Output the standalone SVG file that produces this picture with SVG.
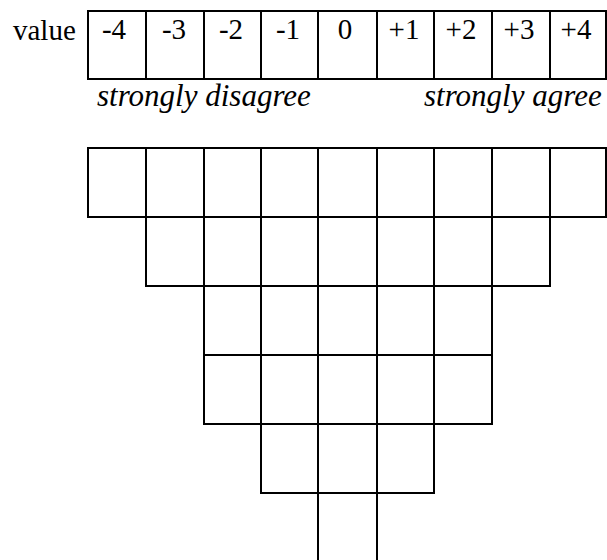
<svg xmlns="http://www.w3.org/2000/svg" width="607" height="560" viewBox="0 0 607 560">
<style>
.c{fill:none;stroke:#000;stroke-width:2}
text{font-family:Liberation Serif,Times New Roman,Times,serif;fill:#000;font-size:29px}
.v{text-anchor:middle}
.i{font-style:italic;font-size:31px}
</style>
<rect width="607" height="560" fill="#fff"/>
<text x="13" y="40">value</text>
<g id="scale">
<g id="v-4"><rect class="c" x="88" y="11" width="58" height="68"/><text class="v" x="114" y="39">-4</text></g>
<g id="v-3"><rect class="c" x="146" y="11" width="58" height="68"/><text class="v" x="174" y="39">-3</text></g>
<g id="v-2"><rect class="c" x="204" y="11" width="57" height="68"/><text class="v" x="231" y="39">-2</text></g>
<g id="v-1"><rect class="c" x="261" y="11" width="57" height="68"/><text class="v" x="288" y="39">-1</text></g>
<g id="v0"><rect class="c" x="318" y="11" width="59" height="68"/><text class="v" x="345" y="39">0</text></g>
<g id="v+1"><rect class="c" x="377" y="11" width="57" height="68"/><text class="v" x="404" y="39">+1</text></g>
<g id="v+2"><rect class="c" x="434" y="11" width="58" height="68"/><text class="v" x="461" y="39">+2</text></g>
<g id="v+3"><rect class="c" x="492" y="11" width="58" height="68"/><text class="v" x="519" y="39">+3</text></g>
<g id="v+4"><rect class="c" x="550" y="11" width="56" height="68"/><text class="v" x="576" y="39">+4</text></g>
</g>
<text class="i" x="97" y="106">strongly disagree</text>
<text class="i" x="424" y="106">strongly agree</text>
<g id="grid">
<g id="r1">
<rect class="c" x="88" y="148" width="58" height="69"/>
<rect class="c" x="146" y="148" width="58" height="69"/>
<rect class="c" x="204" y="148" width="57" height="69"/>
<rect class="c" x="261" y="148" width="57" height="69"/>
<rect class="c" x="318" y="148" width="59" height="69"/>
<rect class="c" x="377" y="148" width="57" height="69"/>
<rect class="c" x="434" y="148" width="58" height="69"/>
<rect class="c" x="492" y="148" width="58" height="69"/>
<rect class="c" x="550" y="148" width="56" height="69"/>
</g>
<g id="r2">
<rect class="c" x="146" y="217" width="58" height="69"/>
<rect class="c" x="204" y="217" width="57" height="69"/>
<rect class="c" x="261" y="217" width="57" height="69"/>
<rect class="c" x="318" y="217" width="59" height="69"/>
<rect class="c" x="377" y="217" width="57" height="69"/>
<rect class="c" x="434" y="217" width="58" height="69"/>
<rect class="c" x="492" y="217" width="58" height="69"/>
</g>
<g id="r3">
<rect class="c" x="204" y="286" width="57" height="69"/>
<rect class="c" x="261" y="286" width="57" height="69"/>
<rect class="c" x="318" y="286" width="59" height="69"/>
<rect class="c" x="377" y="286" width="57" height="69"/>
<rect class="c" x="434" y="286" width="58" height="69"/>
</g>
<g id="r4">
<rect class="c" x="204" y="355" width="57" height="69"/>
<rect class="c" x="261" y="355" width="57" height="69"/>
<rect class="c" x="318" y="355" width="59" height="69"/>
<rect class="c" x="377" y="355" width="57" height="69"/>
<rect class="c" x="434" y="355" width="58" height="69"/>
</g>
<g id="r5">
<rect class="c" x="261" y="424" width="57" height="69"/>
<rect class="c" x="318" y="424" width="59" height="69"/>
<rect class="c" x="377" y="424" width="57" height="69"/>
</g>
<g id="r6">
<rect class="c" x="318" y="493" width="59" height="72"/>
</g>
</g>
</svg>
